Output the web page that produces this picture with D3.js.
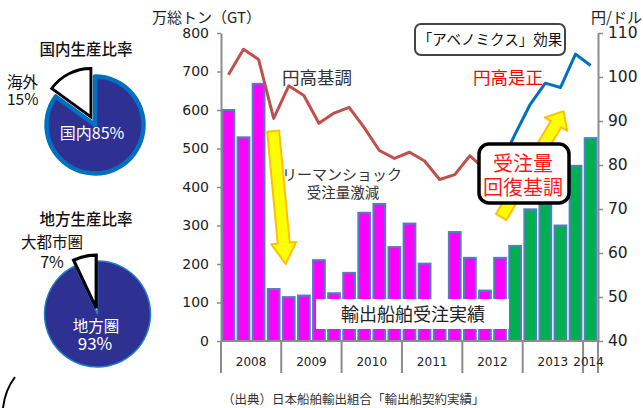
<!DOCTYPE html>
<html><head><meta charset="utf-8">
<script src="https://cdn.jsdelivr.net/npm/d3@7"></script>
<style>
html,body{margin:0;padding:0;background:#fff;}
svg{display:block;font-family:"Noto Sans CJK JP","Noto Sans",sans-serif;}
</style></head><body>
<svg id="c" width="643" height="408"></svg>
<script>
// ---------------- data ----------------
const quarters = ["2008Q1","2008Q2","2008Q3","2008Q4","2009Q1","2009Q2","2009Q3","2009Q4",
  "2010Q1","2010Q2","2010Q3","2010Q4","2011Q1","2011Q2","2011Q3","2011Q4",
  "2012Q1","2012Q2","2012Q3","2012Q4","2013Q1","2013Q2","2013Q3","2013Q4","2014Q1"];
const yearLabels = ["2008","2009","2010","2011","2012","2013","2014"];
const orders = [600,529,668,135, 114,118,210,124, 177,333,356,244, 305,201,95,283, 216,131,216,247, 342,355,300,455, 527];
const recoveryFrom = "2012Q4";
const yenStrongQuarters = quarters.slice(0,19);
const yenStrong = [100.5,106.3,104.0,90.6, 98.0,95.8,89.5,91.8, 93.1,88.5,83.3,81.5, 82.9,80.9,76.7,77.8, 82.1,79.0,80.0];
const yenWeakQuarters = quarters.slice(18);
const yenWeak = [80.0,87.0,93.8,98.6,97.6,105.2,102.6];
const leftTicks = [0,100,200,300,400,500,600,700,800];
const rightTicks = [40,50,60,70,80,90,100,110];
const pieDomestic = [{name:"国内",value:85},{name:"海外",value:15}];
const pieRegional = [{name:"地方圏",value:93},{name:"大都市圏",value:7}];

// ---------------- setup ----------------
const svg = d3.select("#c");
const plot = {left:221, right:598, top:33, bottom:341};
const x = d3.scaleBand().domain(quarters).range([plot.left, plot.right]).paddingInner(0.22).paddingOuter(0.1);
const yL = d3.scaleLinear().domain([0,800]).range([plot.bottom, plot.top]);
const yR = d3.scaleLinear().domain([40,110]).range([plot.bottom, plot.top]);
const bw = x.bandwidth();
const cx = q => x(q) + bw/2;
const recIdx = quarters.indexOf(recoveryFrom);
const txtCol = "#222";

// ---------------- bars ----------------
svg.append("g").selectAll("rect").data(orders).join("rect")
  .attr("x",(d,i)=>x(quarters[i])).attr("width",bw)
  .attr("y",d=>yL(d)).attr("height",d=>yL(0)-yL(d))
  .attr("fill",(d,i)=> i>=recIdx ? "#00b050" : "#ff00ff")
  .attr("stroke","#4f81bd").attr("stroke-width",2);

// ---------------- axes ----------------
const axL = svg.append("g").attr("transform",`translate(${plot.left},0)`)
  .call(d3.axisLeft(yL).tickValues(leftTicks).tickSize(4).tickPadding(8).tickSizeOuter(0));
const axR = svg.append("g").attr("transform",`translate(${plot.right},0)`)
  .call(d3.axisRight(yR).tickValues(rightTicks).tickSize(5).tickPadding(5).tickSizeOuter(0));
[axL,axR].forEach(a=>{
  a.select(".domain").attr("stroke","#8c8c8c").attr("stroke-width",2);
  a.selectAll(".tick line").attr("stroke","#8c8c8c").attr("stroke-width",1.5);
  a.selectAll("text").attr("fill",txtCol).attr("font-family","DejaVu Sans, sans-serif");
});
axL.selectAll("text").attr("font-size",14);
axR.selectAll("text").attr("font-size",15.5);

// x axis line & year separators
svg.append("line").attr("x1",plot.left).attr("x2",plot.right).attr("y1",plot.bottom).attr("y2",plot.bottom)
  .attr("stroke","#8c8c8c").attr("stroke-width",2);
const yearStarts = yearLabels.map(y=>quarters.findIndex(q=>q.startsWith(y)));
const sepX = yearStarts.map(i=> i===0 ? plot.left : x(quarters[i]) - x.step()*x.paddingInner()/2);
sepX.push(plot.right);
svg.append("g").selectAll("line").data(sepX).join("line")
  .attr("x1",d=>d).attr("x2",d=>d).attr("y1",plot.bottom).attr("y2",plot.bottom+32)
  .attr("stroke","#8c8c8c").attr("stroke-width",2);
svg.append("g").selectAll("text").data(yearLabels).join("text")
  .attr("x",(d,i)=> i===yearLabels.length-1 ? (sepX[i]+sepX[i+1])/2-2 : (sepX[i]+sepX[i+1])/2)
  .attr("y",plot.bottom+25).attr("text-anchor","middle")
  .attr("font-family","DejaVu Sans, sans-serif").attr("font-size",12).attr("fill",txtCol).text(d=>d);

// axis titles
svg.append("text").attr("x",152).attr("y",23).attr("font-size",15).attr("fill",txtCol).text("万総トン（GT）");
svg.append("text").attr("x",591).attr("y",23).attr("font-size",15).attr("fill",txtCol).text("円/ドル");

// ---------------- lines ----------------
const line = d3.line().x(d=>cx(d.q)).y(d=>yR(d.v));
svg.append("path").datum(yenStrong.map((v,i)=>({q:yenStrongQuarters[i],v})))
  .attr("d",line).attr("fill","none").attr("stroke","#c0504d").attr("stroke-width",3).attr("stroke-linejoin","round");
svg.append("path").datum(yenWeak.map((v,i)=>({q:yenWeakQuarters[i],v})))
  .attr("d",line).attr("fill","none").attr("stroke","#0070c0").attr("stroke-width",3).attr("stroke-linejoin","round");

// ---------------- arrows ----------------
function arrow(x1,y1,x2,y2,sw,hw,hl){
  const dx=x2-x1, dy=y2-y1, L=Math.hypot(dx,dy), ux=dx/L, uy=dy/L, px=-uy, py=ux;
  const bx=x2-ux*hl, by=y2-uy*hl;
  const pts=[[x1+px*sw/2,y1+py*sw/2],[bx+px*sw/2,by+py*sw/2],[bx+px*hw/2,by+py*hw/2],[x2,y2],
    [bx-px*hw/2,by-py*hw/2],[bx-px*sw/2,by-py*sw/2],[x1-px*sw/2,y1-py*sw/2]];
  return "M"+pts.map(p=>p.join(",")).join("L")+"Z";
}
const arrowG = svg.append("g").attr("fill","#ffff00").attr("stroke","#ffc000").attr("stroke-width",2).attr("stroke-linejoin","round");
arrowG.append("path").attr("d",arrow(cx(quarters[3])-0.5,yL(545),cx(quarters[3])+12,yL(200),12,25,21));
arrowG.append("path").attr("d",arrow(x(quarters[18])+7,yL(322),x(quarters[22])+9,yL(597),12,26,15));

// ---------------- annotation boxes ----------------
// 輸出船舶受注実績 label
svg.append("rect").attr("x",316).attr("y",299).attr("width",193).attr("height",30).attr("fill","#fff");
svg.append("text").attr("x",413).attr("y",315).attr("dy","0.35em").attr("text-anchor","middle")
  .attr("font-size",18).attr("fill",txtCol).text("輸出船舶受注実績");

// 受注量回復基調 box
svg.append("rect").attr("x",479).attr("y",144).attr("width",90).attr("height",59).attr("rx",10)
  .attr("fill","#fff").attr("stroke","#000").attr("stroke-width",3.5);
svg.append("text").attr("x",523).attr("y",164).attr("dy","0.35em").attr("text-anchor","middle")
  .attr("font-size",20).attr("fill","#ff1a1a").text("受注量");
svg.append("text").attr("x",523).attr("y",188).attr("dy","0.35em").attr("text-anchor","middle")
  .attr("font-size",20).attr("fill","#ff1a1a").text("回復基調");

// アベノミクス box
svg.append("rect").attr("x",415).attr("y",24).attr("width",150).attr("height",31).attr("rx",6)
  .attr("fill","#fff").attr("stroke","#444").attr("stroke-width",2);
svg.append("text").attr("x",490).attr("y",40).attr("dy","0.35em").attr("text-anchor","middle")
  .attr("font-size",14.5).attr("fill","#111").text("「アベノミクス」効果");

svg.append("text").attr("x",508).attr("y",78).attr("dy","0.35em").attr("text-anchor","middle")
  .attr("font-size",17.5).attr("fill","#ff0000").text("円高是正");
svg.append("text").attr("x",317).attr("y",78).attr("dy","0.35em").attr("text-anchor","middle")
  .attr("font-size",17.5).attr("fill","#333").text("円高基調");
svg.append("text").attr("x",342).attr("y",175).attr("dy","0.35em").attr("text-anchor","middle")
  .attr("font-size",15).attr("fill","#333").text("リーマンショック");
svg.append("text").attr("x",343).attr("y",193).attr("dy","0.35em").attr("text-anchor","middle")
  .attr("font-size",14.5).attr("fill","#333").text("受注量激減");

// source
svg.append("text").attr("x",222).attr("y",400).attr("dy","0.35em")
  .attr("font-size",12.5).attr("fill","#333").text("（出典）日本船舶輸出組合「輸出船契約実績」");

// ---------------- pies ----------------
function drawPie(data, cxp, cyp, r, mainStroke, mainSW, explode, whiteSW){
  const arcs = d3.pie().value(d=>d.value).sort(null)(data);
  const arcGen = d3.arc().innerRadius(0).outerRadius(r);
  const g = svg.append("g").attr("transform",`translate(${cxp},${cyp})`);
  const a0 = arcs[0], a1 = arcs[1];
  g.append("path").attr("d",arcGen(a0)).attr("fill","#2e3192").attr("stroke",mainStroke)
    .attr("stroke-width",mainSW).attr("stroke-linejoin","round");
  const mid = (a1.startAngle+a1.endAngle)/2;
  g.append("path").attr("d",arcGen(a1))
    .attr("transform",`translate(${Math.sin(mid)*explode},${-Math.cos(mid)*explode})`)
    .attr("fill","#fff").attr("stroke","#000").attr("stroke-width",whiteSW).attr("stroke-linejoin","miter");
  return g;
}
drawPie(pieDomestic, 95, 125, 48.5, "#0070c0", 4.5, 9, 2.8);
drawPie(pieRegional, 97.5, 314, 53, "#1f7fc8", 1.5, 6, 3.2);

// pie titles & labels
const lab = (t,xp,yp,fs,col,anchor="middle",fw=400)=>svg.append("text").attr("x",xp).attr("y",yp)
  .attr("dy","0.35em").attr("text-anchor",anchor).attr("font-size",fs).attr("fill",col).attr("font-weight",fw).text(t);
lab("国内生産比率",86,50,15.5,"#111","middle",500);
lab("海外",7,83,15.5,"#111","start");
lab(`${pieDomestic[1].value}%`,7,100,15.5,"#111","start");
lab(`${pieDomestic[0].name}${pieDomestic[0].value}%`,92,133,16,"#fff");
lab("地方生産比率",86,220,15.5,"#111","middle",500);
lab(pieRegional[1].name,52,243,15.5,"#111");
lab(`${pieRegional[1].value}%`,52,262,16,"#111");
lab(pieRegional[0].name,96,327,15.5,"#fff");
lab(`${pieRegional[0].value}%`,95,344,17,"#fff");

// corner decoration
svg.append("path").attr("d","M15,377 Q5,390 3,408").attr("fill","none").attr("stroke","#000").attr("stroke-width",2);
</script>
</body></html>
